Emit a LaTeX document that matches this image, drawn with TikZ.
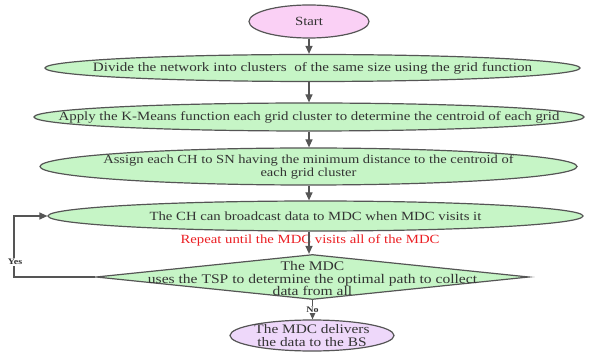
\documentclass[tikz,border=0pt]{standalone}
\usepackage{fontspec}
\setmainfont{Liberation Serif}[FakeStretch=1.18]
\usetikzlibrary{shapes.geometric,arrows.meta}

\definecolor{stepgreen}{RGB}{198,245,198}
\definecolor{startpink}{RGB}{250,208,245}
\definecolor{endlilac}{RGB}{238,216,250}
\definecolor{edgegray}{RGB}{85,85,85}
\definecolor{txtgray}{RGB}{51,51,51}
\definecolor{loopred}{RGB}{235,30,35}

\tikzset{
  ellbox/.style={ellipse, draw=edgegray, line width=1.2pt, inner sep=0pt},
  flowarr/.style={draw=edgegray, line width=1.2pt, -{Triangle[length=8pt,width=7pt]}},
  steptxt/.style={text=txtgray, font=\fontsize{12.5}{13}\selectfont, align=center, inner sep=0pt},
  ynlabel/.style={fill=white, inner sep=1pt, text=txtgray, font=\fontsize{8.5}{9}\selectfont\bfseries},
}

\begin{document}
\begin{tikzpicture}[x=1pt,y=1pt,yscale=-1]
\useasboundingbox (0,0) rectangle (593,352);

%Shape: Ellipse
\node[ellbox, fill=startpink, minimum width=120pt, minimum height=33pt] (start) at (309,21.5) {};
%Shape: Ellipse
\node[ellbox, fill=stepgreen, minimum width=535pt, minimum height=27pt] (divide) at (312.5,68) {};
%Shape: Ellipse
\node[ellbox, fill=stepgreen, minimum width=550pt, minimum height=28pt] (kmeans) at (309,117) {};
%Shape: Ellipse
\node[ellbox, fill=stepgreen, minimum width=537pt, minimum height=37pt] (assign) at (308.5,166.5) {};
%Shape: Ellipse
\node[ellbox, fill=stepgreen, minimum width=535pt, minimum height=30pt] (bcast) at (315.5,216) {};
%Shape: Diamond
\node[diamond, draw=edgegray, fill=stepgreen, line width=1.2pt, inner sep=0pt, minimum width=433pt, minimum height=45pt] (tsp) at (312.5,277) {};
%Shape: Ellipse
\node[ellbox, fill=endlilac, minimum width=164pt, minimum height=31pt] (deliver) at (312,335.5) {};

% Text Node
\node[steptxt] (startT) at (start) {Start};
% Text Node
\node[steptxt, font=\fontsize{12.8}{13}\selectfont] (divideT) at (divide) {Divide the network into clusters \ of the same size using the grid function};
% Text Node
\node[steptxt, font=\fontsize{12.6}{13}\selectfont] (kmeansT) at (kmeans) {Apply the K-Means function each grid cluster to determine the centroid of each grid};
% Text Node
\node[steptxt, font=\fontsize{12.3}{13}\selectfont] (assignT) at (assign) {Assign each CH to SN having the minimum distance to the centroid of\\each grid cluster};
% Text Node
\node[steptxt] (bcastT) at (bcast) {The CH can broadcast data to MDC when MDC visits it};
% Text Node
\node[steptxt, text=loopred] (repeatT) at (310,240) {Repeat until the MDC visits all of the MDC};
% Text Node
\node[steptxt, font=\fontsize{13.2}{12.5}\selectfont] (tspT) at ([yshift=1.5pt]tsp) {The MDC\\uses the TSP to determine the optimal path to collect\\data from all};
% Text Node
\node[steptxt, font=\fontsize{13}{13}\selectfont] (deliverT) at (deliver) {The MDC delivers\\the data to the BS};

%Straight Lines
\draw[flowarr] (start.south) -- (start.south |- divide.north);
\draw[flowarr] (divide.south -| start) -- (kmeans.north -| start);
\draw[flowarr] (kmeans.south -| start) -- (assign.north -| start);
\draw[flowarr] (assign.south -| start) -- (bcast.north -| start);
\draw[flowarr] (bcast.south -| start) -- (tsp.north -| start);
\draw[flowarr] (tsp.south) -- (deliver.north -| tsp.south);

%Yes loop
\coordinate (yesturn) at (14,277);
\draw[flowarr] (tsp.west) -- (yesturn) |- (bcast.west);

% Text Node
\node[ynlabel] (yesL) at (15,262) {Yes};
% Text Node
\node[ynlabel] (noL) at (312.5,309.5) {No};

\end{tikzpicture}
\end{document}
